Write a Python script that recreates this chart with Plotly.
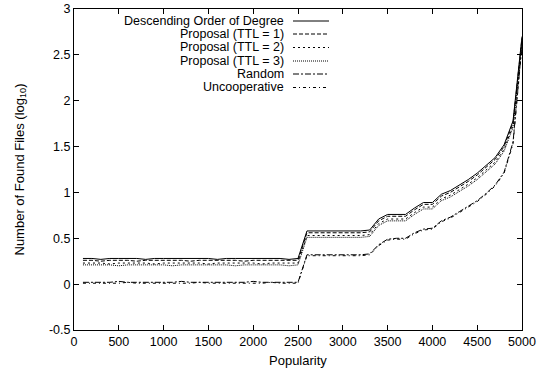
import plotly.graph_objects as go

popularity = list(range(100, 5001, 100))

desc = [0.28, 0.28, 0.27, 0.28, 0.28, 0.28, 0.28, 0.27, 0.28, 0.28,
        0.28, 0.28, 0.28, 0.28, 0.28, 0.27, 0.28, 0.28, 0.28, 0.28,
        0.28, 0.28, 0.28, 0.27, 0.28, 0.58, 0.58, 0.58, 0.58, 0.58,
        0.58, 0.58, 0.59, 0.71, 0.76, 0.76, 0.76, 0.83, 0.89, 0.89,
        0.98, 1.02, 1.08, 1.14, 1.21, 1.29, 1.38, 1.52, 1.78, 2.70]

ttl1 = [0.26, 0.26, 0.25, 0.26, 0.26, 0.26, 0.25, 0.26, 0.26, 0.26,
        0.26, 0.26, 0.25, 0.26, 0.26, 0.26, 0.26, 0.26, 0.25, 0.26,
        0.26, 0.26, 0.26, 0.26, 0.26, 0.56, 0.56, 0.56, 0.56, 0.56,
        0.56, 0.56, 0.57, 0.69, 0.74, 0.74, 0.74, 0.81, 0.87, 0.87,
        0.96, 1.00, 1.06, 1.12, 1.19, 1.27, 1.36, 1.50, 1.76, 2.68]

ttl2 = [0.23, 0.23, 0.23, 0.22, 0.23, 0.23, 0.23, 0.23, 0.22, 0.23,
        0.23, 0.23, 0.23, 0.23, 0.22, 0.23, 0.23, 0.23, 0.23, 0.23,
        0.22, 0.23, 0.23, 0.23, 0.23, 0.53, 0.53, 0.53, 0.53, 0.53,
        0.53, 0.53, 0.54, 0.66, 0.71, 0.71, 0.71, 0.78, 0.84, 0.84,
        0.93, 0.97, 1.03, 1.09, 1.16, 1.24, 1.33, 1.47, 1.73, 2.66]

ttl3 = [0.21, 0.21, 0.21, 0.21, 0.20, 0.21, 0.21, 0.21, 0.21, 0.21,
        0.20, 0.21, 0.21, 0.21, 0.21, 0.21, 0.21, 0.20, 0.21, 0.21,
        0.21, 0.21, 0.21, 0.20, 0.21, 0.51, 0.51, 0.51, 0.51, 0.51,
        0.51, 0.51, 0.52, 0.64, 0.69, 0.69, 0.69, 0.76, 0.82, 0.82,
        0.91, 0.95, 1.01, 1.07, 1.14, 1.22, 1.31, 1.45, 1.71, 2.64]

rand = [0.02, 0.02, 0.02, 0.02, 0.03, 0.02, 0.02, 0.02, 0.02, 0.02,
        0.02, 0.03, 0.02, 0.02, 0.02, 0.02, 0.02, 0.02, 0.02, 0.03,
        0.02, 0.02, 0.02, 0.02, 0.02, 0.32, 0.32, 0.32, 0.32, 0.32,
        0.32, 0.32, 0.33, 0.43, 0.49, 0.50, 0.50, 0.56, 0.60, 0.61,
        0.69, 0.73, 0.79, 0.85, 0.91, 0.99, 1.08, 1.22, 1.55, 2.62]

uncoop = [0.01, 0.01, 0.01, 0.01, 0.01, 0.02, 0.01, 0.01, 0.01, 0.01,
          0.01, 0.01, 0.01, 0.02, 0.01, 0.01, 0.01, 0.01, 0.01, 0.01,
          0.01, 0.02, 0.01, 0.01, 0.01, 0.31, 0.31, 0.31, 0.31, 0.31,
          0.31, 0.31, 0.32, 0.42, 0.48, 0.49, 0.49, 0.55, 0.59, 0.60,
          0.68, 0.72, 0.78, 0.84, 0.90, 0.98, 1.07, 1.21, 1.53, 2.60]

names = ["Descending Order of Degree", "Proposal (TTL = 1)", "Proposal (TTL = 2)",
         "Proposal (TTL = 3)", "Random", "Uncooperative"]
series = [desc, ttl1, ttl2, ttl3, rand, uncoop]
dashes = ["solid", "4px,2px", "2px,3px", "1px,1px", "6px,2px,2px,2px", "3px,3px,1px,3px"]

x_ticks = list(range(0, 5001, 500))
y_ticks = [-0.5, 0, 0.5, 1, 1.5, 2, 2.5, 3]
y_labels = ["-0.5", "0", "0.5", "1", "1.5", "2", "2.5", "3"]

fig = go.Figure()
for name, ys, d in zip(names, series, dashes):
    fig.add_trace(go.Scatter(x=popularity, y=ys, mode="lines", name=name,
                             line=dict(color="black", width=1, dash=d),
                             showlegend=False, cliponaxis=False))

# manual gnuplot-style legend (text right, sample line after)
L, R, T, B = 74, 522, 9, 330
W, H = R - L, B - T
FS = 13
rows = [21, 34, 47.5, 61, 74, 87.5]
for name, d, py in zip(names, dashes, rows):
    yp = (B - py) / H
    fig.add_annotation(x=(285 - L) / W, y=yp, xref="paper", yref="paper",
                       text=name, showarrow=False, xanchor="right", yanchor="middle",
                       font=dict(size=12.5, color="black"), borderpad=0)
    fig.add_shape(type="line", xref="paper", yref="paper",
                  x0=(293 - L) / W, x1=(329 - L) / W, y0=yp, y1=yp,
                  line=dict(color="black", width=1, dash=d))

# axis titles
fig.add_annotation(x=0.5, y=(B - 360) / H, xref="paper", yref="paper",
                   text="Popularity", showarrow=False, xanchor="center", yanchor="middle",
                   font=dict(size=FS, color="black"))
fig.add_annotation(x=(20 - L) / W, y=0.5, xref="paper", yref="paper",
                   text="Number of Found Files (log<sub>10</sub>)", showarrow=False,
                   textangle=-90, xanchor="center", yanchor="middle",
                   font=dict(size=FS, color="black"))

axis_common = dict(showline=True, linecolor="black", linewidth=1, mirror="ticks",
                   ticks="inside", ticklen=5, tickcolor="black", showgrid=False,
                   zeroline=False, tickfont=dict(size=12.5, color="black"),
                   automargin=False)

fig.update_layout(
    width=538, height=374,
    margin=dict(l=L, r=538 - R, t=T, b=374 - B),
    paper_bgcolor="white", plot_bgcolor="white",
    font=dict(family="Liberation Sans, Arial, sans-serif", color="black", size=FS),
    xaxis=dict(range=[0, 5000], tickvals=x_ticks, **axis_common),
    yaxis=dict(range=[-0.5, 3], tickvals=y_ticks, ticktext=y_labels, **axis_common),
)

fig.write_html("out.html", config={"displayModeBar": False},
               post_script="document.body.style.margin='0';document.body.style.overflow='hidden';")
